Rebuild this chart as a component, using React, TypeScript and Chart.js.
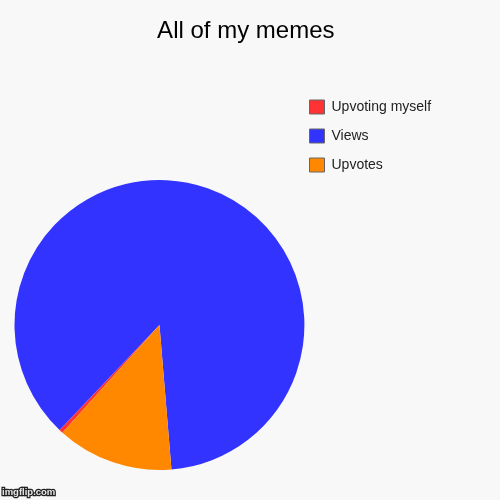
import { useEffect, useRef } from 'react';
import { Chart, registerables } from 'chart.js';

Chart.register(...registerables);

const labels = ['Upvoting myself', 'Views', 'Upvotes'];
const values = [5, 1000, 150];
const colors = ['#ff3333', '#3333ff', '#ff8800'];

const FONT = '"Liberation Sans", Arial, sans-serif';

// keep the legend up near the top right and centre the title over the page, as in the original
const blockPlacer = {
  id: 'blockPlacer',
  afterLayout(chart: any) {
    const lg = chart.legend;
    if (lg) {
      const w = lg.width;
      const h = lg.height;
      lg.left = 294.5;
      lg.right = 294.5 + w;
      lg.top = 85;
      lg.bottom = 85 + h;
    }
    const t = chart.titleBlock;
    if (t) {
      t.left = 0;
      t.right = 491.6;
    }
  }
};

const watermark = {
  id: 'watermark',
  afterDraw(chart: any) {
    const ctx = chart.ctx;
    ctx.save();
    ctx.font = 'bold 9.5px ' + FONT;
    ctx.textBaseline = 'alphabetic';
    ctx.lineWidth = 2.5;
    ctx.strokeStyle = '#222';
    ctx.strokeText('imgflip.com', 2, 495);
    ctx.fillStyle = '#e8e8e8';
    ctx.fillText('imgflip.com', 2, 495);
    ctx.restore();
  }
};

export default function App() {
  const chartRef = useRef<HTMLCanvasElement>(null);
  const chartInstance = useRef<Chart | null>(null);

  useEffect(() => {
    if (!chartRef.current) return;
    if (chartInstance.current) chartInstance.current.destroy();

    const ctx = chartRef.current.getContext('2d');
    if (!ctx) return;

    const baseLabels = (Chart as any).overrides.pie.plugins.legend.labels.generateLabels;

    chartInstance.current = new Chart(ctx, {
      type: 'pie',
      data: {
        labels,
        datasets: [
          {
            data: values,
            backgroundColor: colors,
            borderWidth: 0
          }
        ]
      },
      options: {
        responsive: true,
        maintainAspectRatio: false,
        animation: false,
        rotation: 222,
        layout: {
          padding: { top: 0, left: 14.5, right: 49, bottom: 30 }
        },
        plugins: {
          title: {
            display: true,
            text: 'All of my memes',
            color: '#000',
            font: { family: FONT, size: 24, weight: 'normal' },
            padding: { top: 17.3, bottom: 133.9 }
          },
          legend: {
            position: 'right',
            align: 'start',
            labels: {
              color: '#222',
              font: { family: FONT, size: 14 },
              boxWidth: 15,
              boxHeight: 14,
              padding: 15,
              generateLabels: (chart: any) =>
                baseLabels(chart).map((l: any) => ({ ...l, strokeStyle: '#666', lineWidth: 1 }))
            }
          },
          tooltip: { enabled: false }
        }
      },
      plugins: [blockPlacer, watermark]
    });

    return () => {
      if (chartInstance.current) {
        chartInstance.current.destroy();
        chartInstance.current = null;
      }
    };
  }, []);

  return (
    <div style={{ position: 'fixed', left: 0, top: 0, width: 500, height: 500, background: '#f8f8f8' }}>
      <canvas ref={chartRef} />
    </div>
  );
}
